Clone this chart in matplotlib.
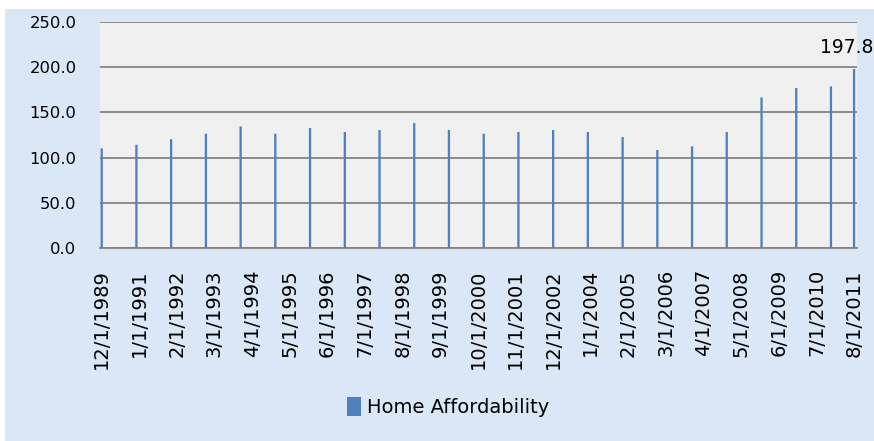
import datetime as dt
import matplotlib.pyplot as plt
from matplotlib.patches import Rectangle

# annual December readings plus the latest (Aug 2011)
bar_dates = [dt.date(y, 12, 1) for y in range(1989, 2011)] + [dt.date(2011, 8, 1)]
values = [110.3, 114.3, 120.5, 126.4, 134.6, 126.4, 132.7, 128.3, 130.5, 138.2,
          130.5, 126.4, 128.3, 130.5, 128.3, 122.8, 108.4, 112.5, 128.3, 166.5,
          176.8, 178.7, 197.8]

tick_labels = ["12/1/1989", "1/1/1991", "2/1/1992", "3/1/1993", "4/1/1994", "5/1/1995",
               "6/1/1996", "7/1/1997", "8/1/1998", "9/1/1999", "10/1/2000", "11/1/2001",
               "12/1/2002", "1/1/2004", "2/1/2005", "3/1/2006", "4/1/2007", "5/1/2008",
               "6/1/2009", "7/1/2010", "8/1/2011"]
y_ticks = [0, 50, 100, 150, 200, 250]

BLUE = "#4f81bd"
BG = "#dae7f6"


def parse(s):
    m, d, y = s.split("/")
    return dt.date(int(y), int(m), int(d))


fig = plt.figure(figsize=(8.74, 4.41), dpi=100, facecolor=BG)
# white strip at top and left edge of the picture
fig.patches.append(Rectangle((0, 1 - 9 / 441), 1, 9 / 441, transform=fig.transFigure,
                             facecolor="white", edgecolor="none", zorder=0))
fig.patches.append(Rectangle((0, 0), 5 / 874, 1, transform=fig.transFigure,
                             facecolor="white", edgecolor="none", zorder=0))

ax = fig.add_axes([100 / 874, 1 - 248.3 / 441, 757 / 874, 226.6 / 441])
ax.set_facecolor("#f0f0f0")

bars = ax.bar(bar_dates, values, width=24, color=BLUE, label="Home Affordability", zorder=3)
for b in bars:
    b.set_snap(False)

ax.set_ylim(0, 250)
ax.set_xlim(bar_dates[0] - dt.timedelta(days=18), bar_dates[-1] + dt.timedelta(days=31))
ax.set_yticks(y_ticks)
ax.set_yticklabels([f"{v:.1f}" for v in y_ticks], fontsize=11.8)
ax.yaxis.grid(True, color="#848484", linewidth=1.3, zorder=1)
ax.set_axisbelow(True)

ax.set_xticks([parse(s) for s in tick_labels])
ax.set_xticklabels(tick_labels, rotation=90, fontsize=14)
ax.tick_params(length=0)
ax.tick_params(axis="x", pad=15)
ax.tick_params(axis="y", pad=17)

for s in ["left", "right", "top"]:
    ax.spines[s].set_visible(False)
ax.spines["bottom"].set_color("#848484")
ax.spines["bottom"].set_linewidth(1.3)

ax.annotate(f"{values[-1]:.1f}", xy=(bar_dates[-1], values[-1]), xytext=(-7, 22),
            textcoords="offset pixels", ha="center", va="center",
            fontsize=13.5, annotation_clip=False)

fig.legend(loc="center", bbox_to_anchor=(0.513, 0.077), frameon=False,
           fontsize=14, handlelength=0.7, handleheight=1.1, handletextpad=0.35)

fig.savefig("out.png", dpi=100, facecolor=fig.get_facecolor())
